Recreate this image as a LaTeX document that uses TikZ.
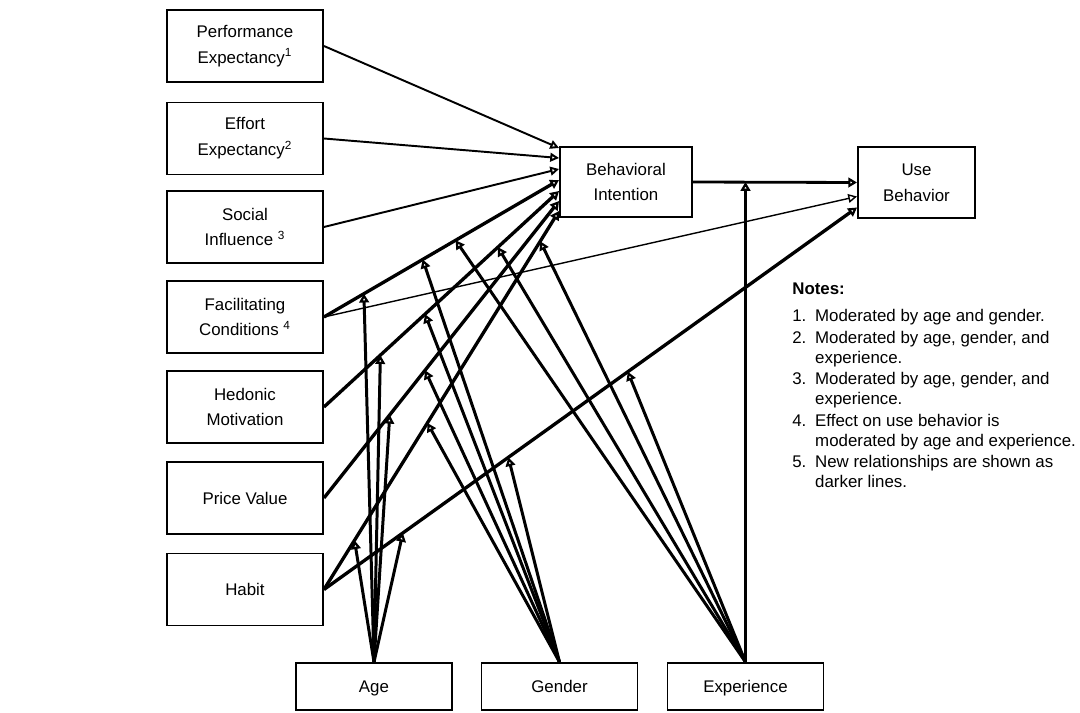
\documentclass[tikz,border=0pt]{standalone}
\usepackage{fontspec}
\setmainfont{Liberation Sans}
\usetikzlibrary{arrows.meta,calc}
\tikzset{
  utaut-box/.style={draw=black, line width=1.1pt, align=center, inner sep=2pt,
    font=\fontsize{9.6}{14.7}\selectfont, minimum width=3.12cm, minimum height=1.44cm},
  utaut-mod-box/.style={utaut-box, minimum height=0.94cm, text height=1.6ex, text depth=0.4ex},
  utaut-old/.style={line width=1.1pt, -{Triangle[open,length=5pt,width=5pt]}},
  utaut-thin/.style={line width=0.8pt, -{Triangle[open,length=5pt,width=5pt]}},
  utaut-new/.style={line width=1.9pt, -{Triangle[open,length=5pt,width=5.5pt]}},
  utaut-mod/.style={line width=1.7pt, -{Triangle[open,length=5pt,width=5.5pt]}},
  utaut-notes/.style={font=\fontsize{9.6}{11.3}\selectfont, align=left, inner sep=0pt}
}
\begin{document}
\begin{tikzpicture}[x=0.02cm, y=-0.02cm]
  \useasboundingbox (0,0) rectangle (1080,713);
  % Constructs on the left
  \node[utaut-box] (pe) at (245,46) {Performance\\Expectancy\textsuperscript{1}};
  \node[utaut-box] (ee) at (245,138.5) {Effort\\Expectancy\textsuperscript{2}};
  \node[utaut-box] (si) at (245,227) {Social\\Influence \textsuperscript{3}};
  \node[utaut-box] (fc) at (245,317) {Facilitating\\Conditions \textsuperscript{4}};
  \node[utaut-box] (hm) at (245,407) {Hedonic\\Motivation};
  \node[utaut-box] (pv) at (245,498) {Price Value};
  \node[utaut-box] (ht) at (245,589.5) {Habit};

  % Intention and use
  \node[utaut-box, minimum width=2.64cm, minimum height=1.4cm] (bi) at (626,182) {Behavioral\\Intention};
  \node[utaut-box, minimum width=2.34cm, minimum height=1.42cm] (ub) at (916.5,182.5) {Use\\Behavior};

  % Moderators
  \node[utaut-mod-box] (age) at (374,686.5) {Age};
  \node[utaut-mod-box] (gen) at (559.5,686.5) {Gender};
  \node[utaut-mod-box] (exp) at (745.5,686.5) {Experience};

  % Original paths
  \draw[utaut-old] (pe.east) -- ($(bi.west)+(0,-34)$);
  \draw[utaut-old] (ee.east) -- ($(bi.west)+(0,-24)$);
  \draw[utaut-old] (si.east) -- ($(bi.west)+(0,-13)$);
  \draw[utaut-thin] (fc.east) -- ($(ub.west)+(0,14)$);
  \draw[utaut-new, line width=1.6pt] (bi.east) -- (ub.west);

  % New (darker) paths, with the points the moderators point at
  \draw[utaut-new] (fc.east) -- coordinate[pos=0.17] (fcbi-age) coordinate[pos=0.42] (fcbi-gen)
    coordinate[pos=0.56] (fcbi-exp) ($(bi.west)+(0,-2)$);
  \draw[utaut-new] (hm.east) -- coordinate[pos=0.24] (hmbi-age) coordinate[pos=0.43] (hmbi-gen)
    coordinate[pos=0.74] (hmbi-exp) ($(bi.west)+(0,9)$);
  \draw[utaut-new] (pv.east) -- coordinate[pos=0.28] (pvbi-age) coordinate[pos=0.43] (pvbi-gen)
    ($(bi.west)+(0,19)$);
  \draw[utaut-new] (ht.east) -- coordinate[pos=0.13] (htbi-age) coordinate[pos=0.44] (htbi-gen)
    coordinate[pos=0.92] (htbi-exp) ($(bi.west)+(0,29)$);
  \draw[utaut-new] (ht.east) -- coordinate[pos=0.148] (htub-age) coordinate[pos=0.346] (htub-gen)
    coordinate[pos=0.57] (htub-exp) ($(ub.west)+(0,25)$);

  % Moderating arrows
  \foreach \t in {fcbi,hmbi,pvbi,htbi,htub}
    \draw[utaut-mod] (age.north) -- (\t-age);
  \foreach \t in {fcbi,hmbi,pvbi,htbi,htub}
    \draw[utaut-mod] (gen.north) -- (\t-gen);
  \foreach \t in {fcbi,hmbi,htbi,htub}
    \draw[utaut-mod] (exp.north) -- (\t-exp);
  \draw[utaut-mod] (exp.north) -- (exp.north |- bi.east);

  % Notes
  \node[utaut-notes, anchor=north west] (notes) at (792,283) {\textbf{Notes:}\\[4pt]
    \begin{tabular}[t]{@{}l@{\hspace{5pt}}l@{}}
      1. & Moderated by age and gender.\\[1pt]
      2. & Moderated by age, gender, and\\
         & experience.\\[1pt]
      3. & Moderated by age, gender, and\\
         & experience.\\[1pt]
      4. & Effect on use behavior is\\
         & moderated by age and experience.\\[1pt]
      5. & New relationships are shown as\\
         & darker lines.
    \end{tabular}};
\end{tikzpicture}
\end{document}
